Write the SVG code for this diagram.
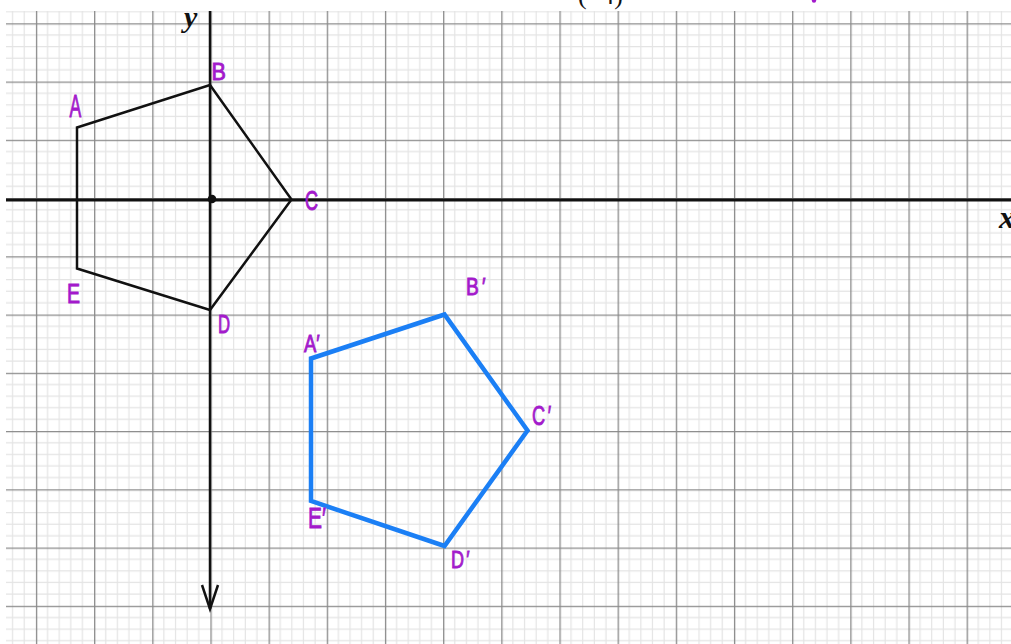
<svg xmlns="http://www.w3.org/2000/svg" width="1011" height="644" viewBox="0 0 1011 644">
<style>
.lbl{font-family:"Liberation Sans",sans-serif;fill:#a31acb;stroke:#a31acb;stroke-width:0.9;}
.ax{font-family:"Liberation Serif",serif;font-style:italic;font-weight:bold;fill:#111;}
.poly1{fill:none;stroke:#111;stroke-width:2.5;stroke-linejoin:miter;}
.poly2{fill:none;stroke:#1b7ff5;stroke-width:4.5;stroke-linejoin:miter;}
</style>
<defs>
<pattern id="grid" patternUnits="userSpaceOnUse" x="35.9" y="23.3" width="58.17" height="58.25">
<path d="M11.63 0V58.25M23.27 0V58.25M34.9 0V58.25M46.54 0V58.25M0 11.65H58.17M0 23.3H58.17M0 34.95H58.17M0 46.6H58.17" stroke="#e4e4e4" stroke-width="1.2" fill="none"/>
<path d="M0.5 0V58.25M0 0.5H58.17" stroke="#8a8a8a" stroke-width="1.6" fill="none"/>
</pattern>
</defs>
<rect width="1011" height="644" fill="#fff"/>
<g id="grid-area">
<rect x="6" y="11" width="1005" height="633" fill="url(#grid)"/>
</g>
<text x="578" y="4" style="font-family:'Liberation Serif',serif;font-size:26px;fill:#111">(−4)</text>
<circle cx="814" cy="0.5" r="2.2" fill="#a31acb"/>
<g id="axes">
<line x1="6" y1="200" x2="1011" y2="200" stroke="#111" stroke-width="3"/>
<line x1="210" y1="11" x2="210" y2="609" stroke="#111" stroke-width="2.5"/>
<path d="M202 585L210 609L218 585" fill="none" stroke="#111" stroke-width="2.5"/>
<circle cx="212" cy="199" r="4.3" fill="#111"/>
<text class="ax" x="184" y="27" font-size="30">y</text>
<text class="ax" x="999" y="228" font-size="32">x</text>
</g>
<g id="pentagon-ABCDE">
<polygon class="poly1" points="77,127.5 210,85 291.5,199.5 210,310 77,268.5"/>
<text class="lbl" font-size="32" transform="translate(69.5,117) scale(0.55,1)">A</text>
<text class="lbl" font-size="24" transform="translate(211.5,80) scale(0.9,1)">B</text>
<text class="lbl" font-size="27" transform="translate(305,210) scale(0.67,1)">C</text>
<text class="lbl" font-size="25" transform="translate(218,333) scale(0.67,1)">D</text>
<text class="lbl" font-size="28" transform="translate(67,303) scale(0.7,1)">E</text>
</g>
<g id="pentagon-image">
<polygon class="poly2" points="311,358.5 444.5,314.5 527.5,430.5 444.5,546 311,501"/>
<text class="lbl" font-size="23" transform="translate(304,352) scale(0.8,1)">A′</text>
<text class="lbl" font-size="24" letter-spacing="4" transform="translate(466,295) scale(0.8,1)">B′</text>
<text class="lbl" font-size="28" letter-spacing="4" transform="translate(532,425) scale(0.65,1)">C′</text>
<text class="lbl" font-size="24" letter-spacing="3" transform="translate(451,568) scale(0.75,1)">D′</text>
<text class="lbl" font-size="30" transform="translate(308,528) scale(0.7,1)">E′</text>
</g>
</svg>
